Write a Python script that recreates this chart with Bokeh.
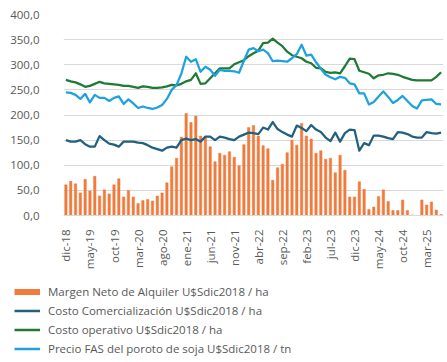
import math
from bokeh.plotting import figure
from bokeh.layouts import column
from bokeh.models import Range1d, FixedTicker, Legend, LegendItem
from bokeh.embed import file_html
from bokeh.resources import INLINE

MESES = ["ene", "feb", "mar", "abr", "may", "jun", "jul", "ago", "sep", "oct", "nov", "dic"]
meses = ["dic-18"] + [f"{m}-{y:02d}" for y in range(19, 26) for m in MESES][:78]

margen = [61, 68, 63, 45, 72, 49, 78, 39, 51, 43, 61, 73, 37, 50, 37, 24, 30, 32, 29, 39,
          45, 65, 97, 114, 156, 203, 185, 198, 158, 156, 137, 107, 124, 120, 127, 116, 99, 141, 175, 179,
          158, 139, 133, 70, 95, 102, 125, 150, 140, 183, 158, 152, 124, 129, 112, 114, 85, 120, 90, 37,
          37, 67, 52, 12, 17, 38, 51, 28, 10, 10, 31, 10, 1, -1, 31, 21, 27, 11, 2]

comercializacion = [150, 147, 147, 150, 142, 137, 137, 158, 150, 143, 141, 137, 147, 147, 147, 145, 144, 140, 135, 132,
                    129, 135, 137, 135, 150, 153, 150, 152, 147, 157, 157, 150,
                    157, 155, 152, 150, 157, 161, 165, 164, 162, 175, 171, 186, 172, 166, 161, 157, 179, 174,
                    168, 180, 171, 166, 155, 148, 165, 147, 164, 171,
                    170, 129, 144, 140, 159, 159, 157, 154, 152, 166, 165, 162, 157, 155, 155, 166, 164, 163, 165]

operativo = [270, 267, 265, 261, 256, 258, 262, 266, 263, 262, 261, 260, 258, 258, 256, 254, 257, 256, 254, 254,
             255, 257, 260, 259, 262, 267, 270, 283, 262, 263, 273, 283,
             293, 293, 293, 301, 305, 309, 317, 323, 328, 343, 344, 352, 344, 337, 326, 319, 316, 313,
             306, 303, 294, 293, 286, 284, 285, 283, 297, 312,
             311, 288, 285, 282, 273, 279, 280, 283, 282, 280, 276, 273, 270, 269, 269, 269, 269, 276, 285]

precio = [245, 244, 240, 232, 242, 225, 240, 234, 234, 228, 234, 237, 222, 231, 223, 214, 217, 214, 212, 215,
          220, 232, 250, 260, 282, 316,
          306, 311, 286, 296, 290, 278, 290, 288, 288, 287, 284, 308, 330, 333, 327, 330, 323, 307, 308, 307,
          306, 313, 321, 340, 318, 320, 305, 292, 280, 275, 271, 276, 274, 263, 261, 243, 243, 221, 226, 237,
          247, 236, 224, 230, 238, 228, 218, 213, 229, 230, 231, 222, 221]

y_ticks = [0, 50, 100, 150, 200, 250, 300, 350, 400]
x_ticks = list(range(0, len(meses), 5))

nombres = ["Margen Neto de Alquiler U$Sdic2018 / ha",
           "Costo Comercialización U$Sdic2018 / ha",
           "Costo operativo U$Sdic2018 / ha",
           "Precio FAS del poroto de soja U$Sdic2018 / tn"]

C_NARANJA = "#F07B3C"
C_AZUL = "#21607F"
C_VERDE = "#1E7A34"
C_CELESTE = "#1EA2DD"
TXT = "#595959"
FONT = "Open Sans"
FS = "11.5px"

idx = list(range(len(meses)))

p = figure(width=447, height=272, output_backend="svg", toolbar_location=None,
           x_range=Range1d(-0.5, len(meses) - 0.5),
           y_range=Range1d(0, 400),
           min_border_left=63, min_border_top=14, min_border_right=4, min_border_bottom=55)

p.vbar(x=idx, top=margen, width=0.5, fill_color=C_NARANJA, line_color=C_NARANJA, line_width=0.5)
p.line(x=idx, y=comercializacion, line_color=C_AZUL, line_width=2.25, line_join="round")
p.line(x=idx, y=operativo, line_color=C_VERDE, line_width=2.25, line_join="round")
p.line(x=idx, y=precio, line_color=C_CELESTE, line_width=2.25, line_join="round")

p.outline_line_color = None
p.xgrid.visible = False
p.ygrid.grid_line_color = "#D9D9D9"
p.ygrid.grid_line_width = 1

p.yaxis.ticker = FixedTicker(ticks=y_ticks)
p.yaxis.major_label_overrides = {t: f"{t},0" for t in y_ticks}
p.yaxis.axis_line_color = None
p.yaxis.major_tick_line_color = None
p.yaxis.minor_tick_line_color = None
p.yaxis.major_label_standoff = 18
p.yaxis.major_label_text_font = FONT
p.yaxis.major_label_text_font_size = FS
p.yaxis.major_label_text_color = TXT

p.xaxis.ticker = FixedTicker(ticks=x_ticks)
p.xaxis.major_label_overrides = {i: meses[i] for i in x_ticks}
p.xaxis.major_label_orientation = math.pi / 2
p.xaxis.axis_line_color = "#D9D9D9"
p.xaxis.major_tick_line_color = None
p.xaxis.minor_tick_line_color = None
p.xaxis.major_tick_out = 0
p.xaxis.major_label_standoff = 14
p.xaxis.major_label_text_font = FONT
p.xaxis.major_label_text_font_size = FS
p.xaxis.major_label_text_color = TXT

# legend panel
q = figure(width=447, height=90, output_backend="svg", toolbar_location=None,
           x_range=Range1d(0, 1), y_range=Range1d(0, 1),
           x_axis_location=None, y_axis_location=None,
           min_border_left=0, min_border_right=0, min_border_top=0, min_border_bottom=0)
q.outline_line_color = None
q.xgrid.visible = False
q.ygrid.visible = False
for fig in (p, q):
    try:
        fig.frame_align = False
    except Exception:
        pass

l_na = q.line(x=[5, 6], y=[5, 6], line_color=C_NARANJA, line_width=6)
l_az = q.line(x=[5, 6], y=[5, 6], line_color=C_AZUL, line_width=2.5)
l_ve = q.line(x=[5, 6], y=[5, 6], line_color=C_VERDE, line_width=2.5)
l_ce = q.line(x=[5, 6], y=[5, 6], line_color=C_CELESTE, line_width=2.5)

legend = Legend(items=[LegendItem(label=nombres[0], renderers=[l_na]),
                       LegendItem(label=nombres[1], renderers=[l_az]),
                       LegendItem(label=nombres[2], renderers=[l_ve]),
                       LegendItem(label=nombres[3], renderers=[l_ce])],
                location=(14, 6), orientation="vertical",
                glyph_width=26, glyph_height=15, label_height=15, label_standoff=8, spacing=4,
                padding=0, margin=0, border_line_color=None, background_fill_alpha=0,
                label_text_font=FONT, label_text_font_size=FS, label_text_color=TXT)
q.add_layout(legend, "center")

lay = column(p, q, spacing=0)
open("out.html", "w").write(file_html(lay, INLINE))
